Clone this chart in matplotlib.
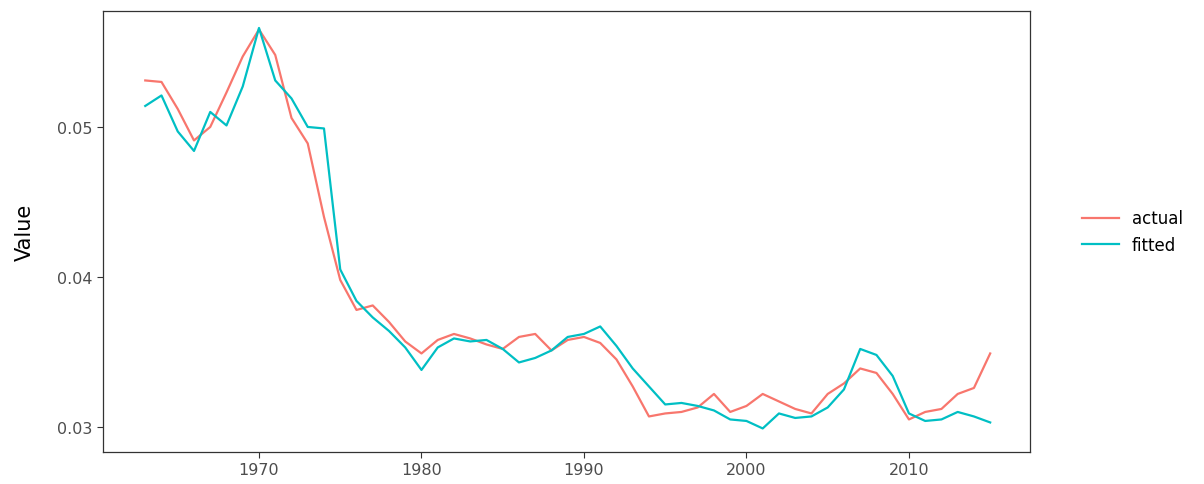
import matplotlib
matplotlib.use("Agg")
import matplotlib.pyplot as plt
import numpy as np

years = list(range(1963, 2016))
actual = [0.0531,0.0530,0.0512,0.0491,0.0500,0.0523,0.0547,0.0565,0.0548,0.0506,
          0.0489,0.0440,0.0398,0.0378,0.0381,0.0370,0.0357,0.0349,0.0358,0.0362,
          0.0359,0.0355,0.0352,0.0360,0.0362,0.0351,0.0358,0.0360,0.0356,0.0345,
          0.0327,0.0307,0.0309,0.0310,0.0313,0.0322,0.0310,0.0314,0.0322,0.0317,
          0.0312,0.0309,0.0322,0.0329,0.0339,0.0336,0.0322,0.0305,0.0310,0.0312,
          0.0322,0.0326,0.0349]
fitted = [0.0514,0.0521,0.0497,0.0484,0.0510,0.0501,0.0527,0.0566,0.0531,0.0519,
          0.0500,0.0499,0.0405,0.0384,0.0373,0.0364,0.0353,0.0338,0.0353,0.0359,
          0.0357,0.0358,0.0352,0.0343,0.0346,0.0351,0.0360,0.0362,0.0367,0.0354,
          0.0339,0.0327,0.0315,0.0316,0.0314,0.0311,0.0305,0.0304,0.0299,0.0309,
          0.0306,0.0307,0.0313,0.0325,0.0352,0.0348,0.0334,0.0309,0.0304,0.0305,
          0.0310,0.0307,0.0303]

fig = plt.figure(figsize=(12.04, 4.85), dpi=100)
ax = fig.add_axes([103/1204, 1-453/485, (1030-103)/1204, (453-12)/485])
ax.plot(years, actual, color="#F8766D", lw=1.6, label="actual")
ax.plot(years, fitted, color="#00BFC4", lw=1.6, label="fitted")
ax.set_xlim(1960.4, 2017.45)
ax.set_ylim(0.02833, 0.05773)
ax.set_xticks([1970,1980,1990,2000,2010])
ax.set_yticks([0.03,0.04,0.05])
ax.set_yticklabels(["0.03","0.04","0.05"])
for s in ax.spines.values():
    s.set_color("#333333"); s.set_linewidth(0.9)
ax.tick_params(colors="#333333", labelsize=11.5, labelcolor="#4d4d4d", length=4)
ax.set_ylabel("Value", fontsize=15, color="black", labelpad=16)
leg = ax.legend(loc="center left", bbox_to_anchor=(1.04, 0.5), frameon=False,
                fontsize=12, handlelength=2.2)
fig.savefig("out.png", dpi=100)
